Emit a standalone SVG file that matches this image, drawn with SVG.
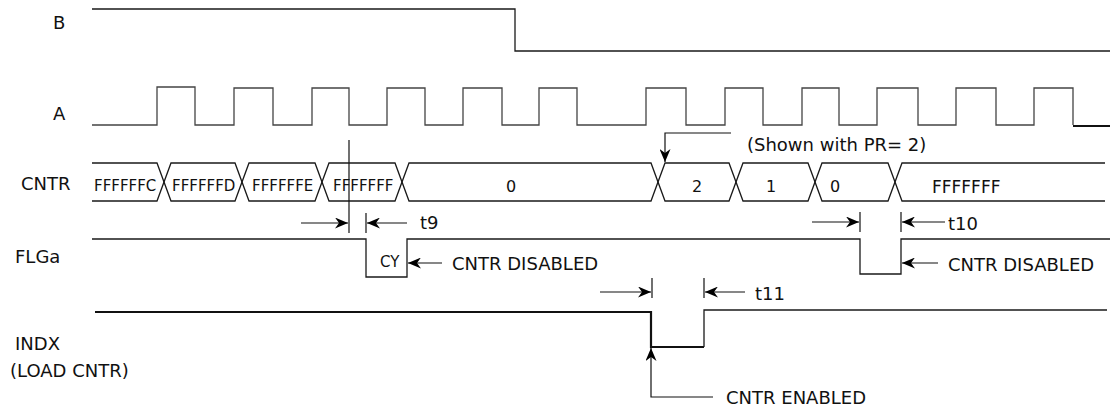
<svg xmlns="http://www.w3.org/2000/svg" width="1110" height="413" viewBox="0 0 1110 413">
<style>
.w{fill:none;stroke:#1a1a1a;stroke-width:1.3}
.g{fill:none;stroke:#444;stroke-width:1.3}
.thick{fill:none;stroke:#111;stroke-width:2.2}
.c{fill:none;stroke:#111;stroke-width:1.2}
.lbl{font-family:"DejaVu Sans",sans-serif;font-size:18px;fill:#111}
.ann{font-family:"DejaVu Sans",sans-serif;font-size:18px;fill:#111}
.val{font-family:"DejaVu Sans",sans-serif;font-size:15px;fill:#111}
</style>
<defs>
<marker id="ah" viewBox="0 0 13 11" markerWidth="13" markerHeight="11" refX="13" refY="5.5" orient="auto" markerUnits="userSpaceOnUse">
<path d="M0,0 L13,5.5 L0,11 L4,5.5 z" fill="#000"/>
</marker>
</defs>
<rect width="1110" height="413" fill="#fff"/>

<g id="sig-B">
<text class="lbl" x="53" y="29">B</text>
<path class="w" d="M92,9 H515 V51 H1110"/>
</g>

<g id="sig-A">
<text class="lbl" x="53" y="120">A</text>
<path class="g" d="M92,125 H157 V87 H195 V125 H234 V88 H273 V125 H312 V88 H349 V125 H387 V88 H425 V125 H463 V88 H502 V125 H539 V88 H577 V125 H646 V88 H686 V125 H725 V88 H763 V125 H802 V88 H839 V125 H877 V88 H918 V125 H956 V88 H996 V125 H1034 V88 H1073 V125"/>
<path class="thick" d="M1073,126 H1110"/>
</g>

<g id="sig-CNTR">
<text class="lbl" x="21" y="190">CNTR</text>
<path class="w" d="M92,163 H157 L171,201 H235 L249,163 H315 L329,201 H395 L409,163 H651 L665,201 H729 L743,163 H808 L822,201 H888 L902,163 H1105"/>
<path class="w" d="M92,201 H157 L171,163 H235 L249,201 H315 L329,163 H395 L409,201 H651 L665,163 H729 L743,201 H808 L822,163 H888 L902,201 H1105"/>
<text class="val" x="94" y="191">FFFFFFC</text>
<text class="val" x="172" y="191">FFFFFFD</text>
<text class="val" x="252" y="191">FFFFFFE</text>
<text class="val" x="333" y="191">FFFFFFF</text>
<text class="val" x="511" y="192" text-anchor="middle" style="font-size:16px">0</text>
<text class="val" x="697" y="192" text-anchor="middle" style="font-size:16px">2</text>
<text class="val" x="771" y="192" text-anchor="middle" style="font-size:16px">1</text>
<text class="val" x="835" y="192" text-anchor="middle" style="font-size:16px">0</text>
<text class="val" x="932" y="193" style="font-size:17px">FFFFFFF</text>
</g>

<g id="sig-FLGa">
<text class="lbl" x="15" y="263">FLGa</text>
<path class="w" d="M92,239 H366 V277 H407 V239 H860 V274 H901 V239 H1110"/>
<text class="val" x="380" y="267">CY</text>
</g>

<g id="sig-INDX">
<text class="lbl" x="15" y="350">INDX</text>
<text class="lbl" x="10" y="377">(LOAD CNTR)</text>
<path class="thick" d="M95,312 H651 V347 H704"/>
<path class="w" d="M704,347 V310 H1107"/>
</g>

<g id="connectors">
<path class="c" d="M349,140 V233"/>
<path class="c" d="M301,223 H348" marker-end="url(#ah)"/>
<path class="c" d="M366,213 V233"/>
<path class="c" d="M407,223 H367" marker-end="url(#ah)"/>
<path class="c" d="M442,263 H408" marker-end="url(#ah)"/>
<path class="c" d="M812,222 H859" marker-end="url(#ah)"/>
<path class="c" d="M860,212 V232"/>
<path class="c" d="M901,212 V232"/>
<path class="c" d="M945,222 H902" marker-end="url(#ah)"/>
<path class="c" d="M938,263 H902" marker-end="url(#ah)"/>
<path class="c" d="M600,292 H651" marker-end="url(#ah)"/>
<path class="c" d="M652,278 V298"/>
<path class="c" d="M704,278 V298"/>
<path class="c" d="M745,292 H705" marker-end="url(#ah)"/>
<path class="c" d="M713,397 H651 V348" marker-end="url(#ah)"/>
<path class="c" d="M731,133 H665 V162" marker-end="url(#ah)"/>
<text class="ann" x="420" y="229">t9</text>
<text class="ann" x="948" y="230">t10</text>
<text class="ann" x="755" y="300">t11</text>
<text class="ann" x="452" y="270">CNTR DISABLED</text>
<text class="ann" x="948" y="271">CNTR DISABLED</text>
<text class="ann" x="726" y="404">CNTR ENABLED</text>
<text class="ann" x="747" y="151">(Shown with PR= 2)</text>
</g>
</svg>
